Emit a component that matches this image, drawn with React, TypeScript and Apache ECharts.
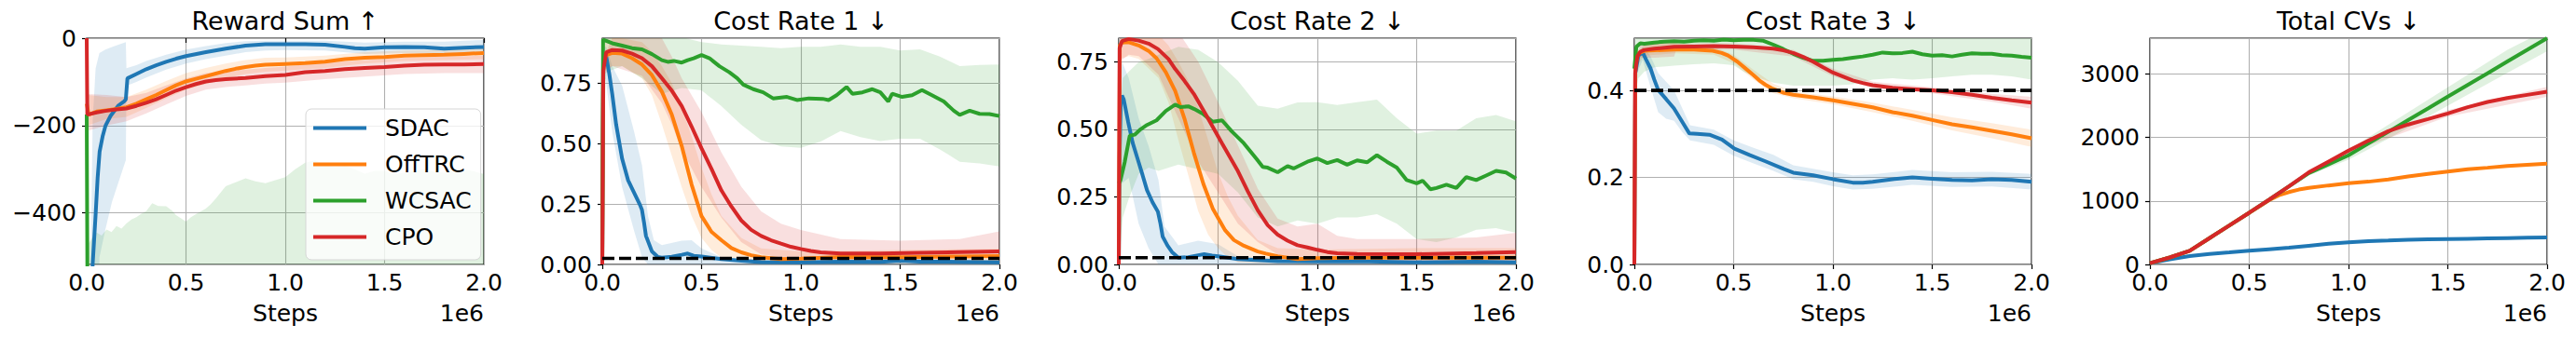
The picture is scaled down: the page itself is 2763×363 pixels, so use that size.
import React, { useEffect, useRef } from "react";
import * as echarts from "echarts";

// ---------------- data (x in units of 1e6 steps) ----------------
const ALGOS = ["SDAC", "OffTRC", "WCSAC", "CPO"];
const COLORS = ["#1f77b4", "#ff7f0e", "#2ca02c", "#d62728"];
const TITLES = ["Reward Sum ↑", "Cost Rate 1 ↓", "Cost Rate 2 ↓", "Cost Rate 3 ↓", "Total CVs ↓"];
const X_LABEL = "Steps";
const X_OFFSET_LABEL = "1e6";
const X_MIN = 0;
const X_MAX = 2;
const X_INTERVAL = 0.5;
const Y_MIN = [-518, 0, 0, 0, 0];
const Y_MAX = [0, 0.936, 0.837, 0.52, 3565];
const Y_INTERVAL = [200, 0.25, 0.25, 0.2, 1000];
const Y_DECIMALS = [0, 2, 2, 1, 0];
const THRESHOLDS = [null, 0.025, 0.025, 0.4, null];

// ---- Panel 1: Reward Sum ----
const P1_SDAC = [[0, -900], [0.025, -600], [0.03, -518], [0.045, -403], [0.055, -320], [0.065, -260], [0.08, -225], [0.095, -200], [0.12, -178], [0.16, -154], [0.19, -144], [0.197, -140], [0.205, -92], [0.25, -82], [0.3, -71], [0.35, -62], [0.4, -54], [0.45, -47], [0.5, -41], [0.6, -32], [0.7, -24], [0.8, -17], [0.9, -14], [1.0, -14], [1.1, -14], [1.2, -15], [1.3, -20], [1.35, -23], [1.4, -24], [1.5, -21], [1.6, -20], [1.7, -21], [1.8, -24], [1.9, -22], [2.0, -20]];
const P1_SDAC_BAND = [[0.02, -900, -518], [0.03, -900, -190], [0.045, -900, -69], [0.064, -502, -34], [0.094, -438, -26], [0.127, -375, -20], [0.16, -330, -15], [0.197, -279, -9], [0.2, -109, -69], [0.25, -100, -62], [0.3, -90, -52], [0.4, -72, -38], [0.5, -58, -26], [0.6, -48, -18], [0.7, -40, -11], [0.8, -32, -7], [0.9, -28, -6], [1.0, -27, -6], [1.2, -28, -6], [1.4, -36, -10], [1.6, -34, -8], [1.8, -36, -8], [2.0, -35, -4]];
const P1_OFFTRC = [[0, -150], [0.01, -175], [0.05, -168], [0.1, -165], [0.15, -162], [0.2, -158], [0.25, -150], [0.3, -140], [0.35, -130], [0.4, -119], [0.45, -108], [0.5, -99], [0.55, -93], [0.6, -87], [0.65, -81], [0.7, -75], [0.75, -70], [0.8, -66], [0.85, -63], [0.9, -61], [1.0, -59], [1.1, -57], [1.2, -54], [1.3, -48], [1.4, -45], [1.5, -43], [1.6, -40], [1.7, -39], [1.8, -38], [1.9, -36], [2.0, -34]];
const P1_OFFTRC_BAND = [[0.005, -200, -130], [0.1, -185, -135], [0.2, -180, -135], [0.3, -160, -118], [0.4, -138, -98], [0.5, -118, -80], [0.6, -105, -68], [0.7, -92, -58], [0.8, -82, -50], [0.9, -77, -45], [1.0, -74, -44], [1.2, -68, -40], [1.4, -58, -32], [1.6, -52, -28], [1.8, -50, -26], [2.0, -48, -22]];
const P1_WCSAC = [[0, -175], [0.004, -600], [1.0, -700], [2.0, -700]];
const P1_WCSAC_BAND = [[0, -900, -175], [0.01, -900, -470], [0.03, -900, -455], [0.05, -900, -445], [0.075, -900, -452], [0.1, -900, -438], [0.125, -900, -444], [0.15, -900, -430], [0.175, -900, -436], [0.2, -900, -424], [0.225, -900, -415], [0.25, -900, -410], [0.275, -900, -402], [0.3, -900, -396], [0.33, -900, -378], [0.36, -900, -384], [0.4, -900, -385], [0.43, -900, -395], [0.45, -900, -405], [0.5, -900, -420], [0.525, -900, -410], [0.55, -900, -403], [0.6, -900, -390], [0.625, -900, -380], [0.65, -900, -367], [0.7, -900, -339], [0.75, -900, -330], [0.8, -900, -321], [0.85, -900, -328], [0.9, -900, -332], [0.95, -900, -325], [1.0, -900, -318], [1.05, -900, -300], [1.1, -900, -285], [1.15, -900, -280], [1.2, -900, -290], [1.25, -900, -295], [1.3, -900, -292], [1.35, -900, -300], [1.4, -900, -310], [1.45, -900, -304], [1.5, -900, -304], [1.55, -900, -312], [1.6, -900, -308], [1.65, -900, -303], [1.7, -900, -300], [1.75, -900, -306], [1.8, -900, -308], [1.85, -900, -302], [1.9, -900, -300], [1.95, -900, -305], [2.0, -900, -311]];
const P1_CPO = [[0, 0], [0.003, -175], [0.05, -170], [0.1, -166], [0.15, -163], [0.2, -161], [0.25, -155], [0.3, -148], [0.35, -140], [0.4, -130], [0.45, -120], [0.5, -112], [0.55, -105], [0.6, -99], [0.65, -96], [0.7, -94], [0.8, -91], [0.9, -87], [1.0, -84], [1.1, -78], [1.2, -75], [1.3, -71], [1.4, -68], [1.5, -66], [1.6, -63], [1.7, -61], [1.8, -60], [1.9, -60], [2.0, -59]];
const P1_CPO_BAND = [[0.003, -212, -128], [0.1, -200, -130], [0.2, -190, -135], [0.3, -172, -125], [0.4, -152, -108], [0.5, -132, -92], [0.6, -118, -80], [0.7, -112, -76], [0.8, -108, -72], [0.9, -104, -68], [1.0, -102, -65], [1.2, -94, -56], [1.4, -88, -50], [1.6, -82, -45], [1.8, -80, -42], [2.0, -80, -40]];

// ---- Panel 2: Cost Rate 1 ----
const P2_SDAC = [[0, 0], [0.005, 0.87], [0.02, 0.86], [0.035, 0.79], [0.05, 0.706], [0.07, 0.578], [0.1, 0.437], [0.13, 0.348], [0.16, 0.297], [0.19, 0.246], [0.2, 0.225], [0.21, 0.175], [0.22, 0.118], [0.25, 0.054], [0.28, 0.031], [0.3, 0.028], [0.35, 0.032], [0.4, 0.04], [0.43, 0.045], [0.46, 0.036], [0.5, 0.033], [0.6, 0.022], [0.7, 0.015], [0.8, 0.01], [1.0, 0.009], [1.2, 0.012], [1.4, 0.011], [1.5, 0.015], [1.6, 0.012], [1.8, 0.011], [2.0, 0.009]];
const P2_SDAC_BAND = [[0, 0, 0], [0.005, 0.8, 0.9], [0.02, 0.75, 0.9], [0.05, 0.55, 0.82], [0.1, 0.32, 0.74], [0.16, 0.14, 0.55], [0.2, 0.03, 0.41], [0.23, 0, 0.2], [0.26, 0, 0.1], [0.3, 0, 0.08], [0.4, 0, 0.098], [0.45, 0, 0.1], [0.5, 0, 0.066], [0.6, 0, 0.03], [0.8, 0, 0.02], [1.0, 0, 0.02], [1.5, 0, 0.025], [2.0, 0, 0.02]];
const P2_OFFTRC = [[0, 0], [0.005, 0.84], [0.02, 0.866], [0.05, 0.875], [0.1, 0.872], [0.15, 0.853], [0.2, 0.827], [0.25, 0.783], [0.3, 0.715], [0.35, 0.62], [0.4, 0.49], [0.45, 0.33], [0.5, 0.2], [0.55, 0.135], [0.6, 0.1], [0.65, 0.068], [0.7, 0.05], [0.75, 0.038], [0.8, 0.03], [0.85, 0.026], [0.9, 0.022], [1.0, 0.024], [1.2, 0.031], [1.5, 0.03], [1.8, 0.033], [2.0, 0.035]];
const P2_OFFTRC_BAND = [[0.005, 0.8, 0.93], [0.05, 0.82, 0.936], [0.1, 0.82, 0.936], [0.2, 0.77, 0.92], [0.25, 0.7, 0.88], [0.3, 0.58, 0.82], [0.35, 0.45, 0.75], [0.4, 0.32, 0.65], [0.45, 0.2, 0.53], [0.5, 0.11, 0.4], [0.55, 0.06, 0.29], [0.6, 0.028, 0.2], [0.7, 0.01, 0.11], [0.8, 0.005, 0.066], [1.0, 0.005, 0.054], [1.5, 0.005, 0.06], [2.0, 0.008, 0.065]];
const P2_WCSAC = [[0, 0], [0.004, 0.93], [0.02, 0.925], [0.05, 0.915], [0.1, 0.905], [0.15, 0.895], [0.2, 0.89], [0.25, 0.87], [0.3, 0.845], [0.33, 0.838], [0.36, 0.842], [0.4, 0.835], [0.43, 0.845], [0.46, 0.853], [0.5, 0.866], [0.54, 0.853], [0.59, 0.82], [0.64, 0.795], [0.68, 0.77], [0.71, 0.744], [0.76, 0.725], [0.81, 0.712], [0.86, 0.687], [0.93, 0.693], [0.98, 0.68], [1.04, 0.687], [1.11, 0.685], [1.14, 0.68], [1.18, 0.7], [1.23, 0.734], [1.26, 0.706], [1.31, 0.712], [1.36, 0.725], [1.4, 0.712], [1.44, 0.674], [1.46, 0.706], [1.51, 0.693], [1.56, 0.7], [1.61, 0.721], [1.66, 0.7], [1.72, 0.674], [1.77, 0.636], [1.8, 0.619], [1.85, 0.636], [1.9, 0.623], [1.95, 0.622], [2.0, 0.614]];
const P2_WCSAC_BAND = [[0.004, 0.5, 0.936], [0.02, 0.795, 0.95], [0.1, 0.82, 0.95], [0.2, 0.77, 0.95], [0.3, 0.706, 0.95], [0.4, 0.73, 0.94], [0.5, 0.72, 0.92], [0.6, 0.655, 0.91], [0.7, 0.578, 0.905], [0.8, 0.514, 0.9], [0.9, 0.488, 0.895], [1.0, 0.482, 0.9], [1.1, 0.508, 0.9], [1.2, 0.552, 0.91], [1.3, 0.527, 0.9], [1.4, 0.51, 0.9], [1.5, 0.52, 0.885], [1.6, 0.52, 0.89], [1.7, 0.476, 0.86], [1.8, 0.425, 0.82], [1.9, 0.418, 0.825], [2.0, 0.405, 0.827]];
const P2_CPO = [[0, 0], [0.005, 0.8], [0.02, 0.878], [0.05, 0.887], [0.1, 0.885], [0.15, 0.872], [0.2, 0.853], [0.25, 0.82], [0.3, 0.77], [0.35, 0.719], [0.4, 0.655], [0.45, 0.57], [0.5, 0.48], [0.55, 0.395], [0.6, 0.306], [0.65, 0.24], [0.7, 0.182], [0.75, 0.143], [0.8, 0.118], [0.85, 0.1], [0.9, 0.086], [0.95, 0.073], [1.0, 0.064], [1.05, 0.056], [1.1, 0.05], [1.2, 0.045], [1.4, 0.045], [1.6, 0.048], [1.8, 0.051], [2.0, 0.054]];
const P2_CPO_BAND = [[0.005, 0.78, 0.85], [0.05, 0.82, 0.936], [0.2, 0.78, 0.936], [0.3, 0.667, 0.936], [0.35, 0.58, 0.86], [0.4, 0.476, 0.77], [0.5, 0.32, 0.63], [0.6, 0.194, 0.463], [0.7, 0.092, 0.322], [0.8, 0.041, 0.22], [0.9, 0.03, 0.169], [1.0, 0.022, 0.143], [1.2, 0.02, 0.105], [1.5, 0.022, 0.098], [1.8, 0.025, 0.105], [2.0, 0.028, 0.137]];

// ---- Panel 3: Cost Rate 2 ----
const P3_SDAC = [[0, 0], [0.004, 0.4], [0.01, 0.6], [0.016, 0.625], [0.025, 0.61], [0.047, 0.528], [0.07, 0.45], [0.095, 0.39], [0.12, 0.33], [0.142, 0.275], [0.17, 0.23], [0.197, 0.195], [0.21, 0.15], [0.221, 0.103], [0.245, 0.07], [0.268, 0.046], [0.3, 0.025], [0.35, 0.027], [0.4, 0.034], [0.43, 0.038], [0.47, 0.033], [0.5, 0.03], [0.6, 0.02], [0.8, 0.012], [1.0, 0.011], [1.2, 0.012], [1.5, 0.008], [1.8, 0.01], [2.0, 0.008]];
const P3_SDAC_BAND = [[0.004, 0.2, 0.6], [0.016, 0.3, 0.75], [0.05, 0.32, 0.69], [0.1, 0.151, 0.541], [0.15, 0.06, 0.438], [0.2, 0, 0.312], [0.23, 0, 0.14], [0.3, 0, 0.071], [0.4, 0, 0.088], [0.5, 0, 0.075], [0.6, 0, 0.03], [1.0, 0, 0.02], [2.0, 0, 0.018]];
const P3_OFFTRC = [[0, 0], [0.005, 0.81], [0.016, 0.821], [0.05, 0.822], [0.1, 0.81], [0.15, 0.79], [0.19, 0.763], [0.237, 0.711], [0.284, 0.642], [0.331, 0.539], [0.378, 0.413], [0.426, 0.298], [0.473, 0.207], [0.536, 0.126], [0.58, 0.09], [0.63, 0.069], [0.7, 0.048], [0.741, 0.04], [0.8, 0.03], [0.9, 0.02], [1.0, 0.023], [1.2, 0.025], [1.5, 0.025], [1.8, 0.026], [2.0, 0.025]];
const P3_OFFTRC_BAND = [[0.005, 0.76, 0.837], [0.05, 0.771, 0.86], [0.1, 0.76, 0.86], [0.2, 0.69, 0.85], [0.25, 0.6, 0.81], [0.3, 0.461, 0.75], [0.35, 0.33, 0.68], [0.4, 0.197, 0.58], [0.45, 0.11, 0.46], [0.5, 0.06, 0.34], [0.55, 0.025, 0.25], [0.6, 0.008, 0.18], [0.7, 0.005, 0.09], [0.8, 0.005, 0.06], [1.0, 0.005, 0.055], [1.5, 0.005, 0.06], [2.0, 0.005, 0.06]];
const P3_WCSAC = [[0, 0.3], [0.008, 0.31], [0.03, 0.379], [0.055, 0.476], [0.08, 0.48], [0.11, 0.5], [0.142, 0.516], [0.19, 0.533], [0.237, 0.568], [0.284, 0.591], [0.31, 0.582], [0.35, 0.585], [0.38, 0.575], [0.426, 0.556], [0.473, 0.528], [0.52, 0.533], [0.568, 0.493], [0.63, 0.448], [0.694, 0.39], [0.725, 0.361], [0.75, 0.358], [0.8, 0.341], [0.85, 0.364], [0.88, 0.355], [0.95, 0.38], [1.0, 0.392], [1.05, 0.375], [1.1, 0.386], [1.15, 0.369], [1.2, 0.385], [1.25, 0.378], [1.3, 0.404], [1.35, 0.38], [1.4, 0.358], [1.45, 0.312], [1.5, 0.3], [1.53, 0.31], [1.57, 0.278], [1.6, 0.283], [1.65, 0.295], [1.7, 0.283], [1.75, 0.323], [1.8, 0.312], [1.85, 0.329], [1.9, 0.346], [1.95, 0.34], [2.0, 0.318]];
const P3_WCSAC_BAND = [[0, 0, 0.5], [0.02, 0.174, 0.69], [0.05, 0.243, 0.713], [0.1, 0.335, 0.748], [0.15, 0.358, 0.76], [0.2, 0.346, 0.776], [0.3, 0.369, 0.805], [0.4, 0.352, 0.794], [0.5, 0.335, 0.748], [0.6, 0.266, 0.679], [0.7, 0.174, 0.587], [0.8, 0.14, 0.576], [0.9, 0.163, 0.599], [1.0, 0.151, 0.6], [1.1, 0.174, 0.59], [1.2, 0.174, 0.6], [1.3, 0.186, 0.61], [1.4, 0.151, 0.541], [1.5, 0.094, 0.484], [1.6, 0.083, 0.495], [1.7, 0.1, 0.495], [1.8, 0.128, 0.541], [1.9, 0.134, 0.553], [2.0, 0.117, 0.53]];
const P3_CPO = [[0, 0], [0.004, 0.8], [0.016, 0.826], [0.05, 0.834], [0.1, 0.828], [0.15, 0.817], [0.197, 0.797], [0.25, 0.76], [0.284, 0.723], [0.33, 0.68], [0.378, 0.631], [0.441, 0.551], [0.52, 0.448], [0.6, 0.345], [0.65, 0.27], [0.7, 0.2], [0.75, 0.145], [0.8, 0.11], [0.85, 0.088], [0.9, 0.071], [0.95, 0.063], [1.0, 0.054], [1.05, 0.046], [1.1, 0.041], [1.2, 0.039], [1.5, 0.038], [1.8, 0.042], [2.0, 0.046]];
const P3_CPO_BAND = [[0.004, 0.75, 0.837], [0.05, 0.776, 0.9], [0.1, 0.771, 0.9], [0.2, 0.702, 0.9], [0.3, 0.541, 0.86], [0.4, 0.381, 0.75], [0.5, 0.266, 0.6], [0.6, 0.151, 0.44], [0.7, 0.083, 0.28], [0.8, 0.037, 0.17], [0.9, 0.025, 0.14], [1.0, 0.014, 0.151], [1.1, 0.014, 0.106], [1.2, 0.012, 0.094], [1.5, 0.01, 0.094], [1.8, 0.012, 0.1], [2.0, 0.014, 0.117]];

// ---- Panel 4: Cost Rate 3 ----
const P4_SDAC = [[0, 0], [0.005, 0.44], [0.02, 0.48], [0.042, 0.487], [0.06, 0.47], [0.081, 0.451], [0.1, 0.425], [0.12, 0.401], [0.16, 0.38], [0.199, 0.359], [0.238, 0.33], [0.277, 0.301], [0.316, 0.3], [0.378, 0.298], [0.441, 0.287], [0.504, 0.266], [0.582, 0.251], [0.66, 0.237], [0.754, 0.219], [0.8, 0.211], [0.9, 0.205], [1.0, 0.196], [1.1, 0.188], [1.15, 0.188], [1.2, 0.19], [1.3, 0.196], [1.4, 0.2], [1.5, 0.197], [1.6, 0.194], [1.7, 0.193], [1.8, 0.196], [1.9, 0.194], [2.0, 0.19]];
const P4_SDAC_BAND = [[0.005, 0.43, 0.46], [0.042, 0.47, 0.5], [0.08, 0.41, 0.48], [0.12, 0.35, 0.44], [0.16, 0.335, 0.42], [0.2, 0.33, 0.4], [0.24, 0.305, 0.36], [0.28, 0.285, 0.32], [0.4, 0.275, 0.31], [0.5, 0.25, 0.285], [0.6, 0.232, 0.268], [0.7, 0.215, 0.252], [0.8, 0.196, 0.228], [0.9, 0.19, 0.22], [1.0, 0.18, 0.212], [1.1, 0.172, 0.205], [1.2, 0.174, 0.207], [1.4, 0.183, 0.217], [1.6, 0.178, 0.212], [1.8, 0.179, 0.213], [2.0, 0.172, 0.208]];
const P4_OFFTRC = [[0, 0], [0.005, 0.46], [0.02, 0.485], [0.05, 0.491], [0.1, 0.492], [0.2, 0.494], [0.3, 0.494], [0.394, 0.491], [0.44, 0.486], [0.472, 0.48], [0.519, 0.466], [0.566, 0.448], [0.6, 0.435], [0.629, 0.423], [0.66, 0.413], [0.692, 0.405], [0.754, 0.394], [0.8, 0.39], [0.9, 0.384], [1.0, 0.377], [1.1, 0.369], [1.2, 0.361], [1.3, 0.35], [1.4, 0.342], [1.5, 0.332], [1.6, 0.322], [1.7, 0.315], [1.8, 0.307], [1.9, 0.299], [2.0, 0.29]];
const P4_OFFTRC_BAND = [[0.005, 0.45, 0.48], [0.05, 0.48, 0.505], [0.2, 0.485, 0.51], [0.4, 0.482, 0.5], [0.5, 0.462, 0.482], [0.6, 0.425, 0.447], [0.7, 0.393, 0.415], [0.8, 0.382, 0.397], [1.0, 0.368, 0.386], [1.2, 0.35, 0.372], [1.4, 0.33, 0.355], [1.6, 0.308, 0.338], [1.8, 0.29, 0.325], [2.0, 0.27, 0.31]];
const P4_WCSAC = [[0, 0.45], [0.01, 0.5], [0.03, 0.508], [0.05, 0.507], [0.1, 0.51], [0.15, 0.512], [0.2, 0.513], [0.25, 0.512], [0.3, 0.514], [0.35, 0.515], [0.4, 0.514], [0.45, 0.517], [0.5, 0.515], [0.55, 0.516], [0.6, 0.516], [0.65, 0.514], [0.7, 0.505], [0.75, 0.495], [0.8, 0.484], [0.85, 0.475], [0.9, 0.468], [0.95, 0.468], [1.0, 0.47], [1.05, 0.472], [1.1, 0.475], [1.15, 0.478], [1.2, 0.482], [1.25, 0.487], [1.3, 0.485], [1.35, 0.486], [1.4, 0.489], [1.45, 0.483], [1.5, 0.48], [1.55, 0.481], [1.6, 0.478], [1.65, 0.482], [1.7, 0.485], [1.75, 0.484], [1.8, 0.484], [1.85, 0.481], [1.9, 0.48], [1.95, 0.477], [2.0, 0.475]];
const P4_WCSAC_BAND = [[0, 0.38, 0.5], [0.02, 0.428, 0.56], [0.05, 0.443, 0.56], [0.1, 0.453, 0.56], [0.2, 0.457, 0.56], [0.3, 0.46, 0.56], [0.4, 0.462, 0.56], [0.5, 0.458, 0.56], [0.55, 0.443, 0.56], [0.6, 0.432, 0.56], [0.7, 0.418, 0.56], [0.8, 0.411, 0.55], [0.9, 0.411, 0.54], [1.0, 0.411, 0.535], [1.1, 0.414, 0.535], [1.2, 0.425, 0.54], [1.3, 0.428, 0.54], [1.4, 0.425, 0.545], [1.5, 0.428, 0.535], [1.6, 0.432, 0.535], [1.7, 0.436, 0.54], [1.8, 0.436, 0.535], [1.9, 0.432, 0.53], [2.0, 0.425, 0.528]];
const P4_CPO = [[0, 0], [0.004, 0.44], [0.015, 0.478], [0.03, 0.489], [0.05, 0.493], [0.1, 0.496], [0.2, 0.5], [0.3, 0.501], [0.4, 0.502], [0.5, 0.501], [0.6, 0.499], [0.7, 0.496], [0.75, 0.492], [0.8, 0.486], [0.85, 0.477], [0.9, 0.466], [0.95, 0.453], [1.0, 0.441], [1.05, 0.432], [1.1, 0.423], [1.15, 0.417], [1.2, 0.412], [1.3, 0.406], [1.4, 0.403], [1.5, 0.4], [1.6, 0.396], [1.7, 0.39], [1.8, 0.383], [1.9, 0.377], [2.0, 0.372]];
const P4_CPO_BAND = [[0.004, 0.42, 0.47], [0.03, 0.475, 0.505], [0.1, 0.475, 0.51], [0.2, 0.478, 0.512], [0.21, 0.492, 0.508], [0.5, 0.494, 0.508], [0.8, 0.478, 0.493], [1.0, 0.432, 0.45], [1.2, 0.405, 0.42], [1.5, 0.393, 0.407], [1.8, 0.374, 0.392], [2.0, 0.358, 0.385]];

// ---- Panel 5: Total CVs ----
const P5_SDAC = [[0, 20], [0.1, 80], [0.2, 132], [0.3, 166], [0.4, 190], [0.5, 215], [0.6, 240], [0.7, 265], [0.8, 295], [0.9, 325], [1.0, 350], [1.1, 365], [1.2, 376], [1.3, 388], [1.4, 395], [1.5, 400], [1.6, 405], [1.7, 410], [1.8, 415], [1.9, 420], [2.0, 425]];
const P5_OFFTRC = [[0, 20], [0.1, 110], [0.2, 215], [0.3, 415], [0.4, 615], [0.5, 815], [0.6, 1011], [0.65, 1090], [0.7, 1140], [0.75, 1180], [0.8, 1206], [0.9, 1245], [1.0, 1280], [1.1, 1304], [1.2, 1338], [1.3, 1385], [1.4, 1426], [1.5, 1465], [1.6, 1500], [1.7, 1524], [1.8, 1550], [1.9, 1570], [2.0, 1588]];
const P5_WCSAC = [[0, 20], [0.1, 110], [0.2, 215], [0.3, 415], [0.4, 615], [0.5, 815], [0.6, 1020], [0.7, 1231], [0.8, 1440], [0.9, 1580], [1.0, 1720], [1.1, 1905], [1.2, 2089], [1.3, 2274], [1.4, 2458], [1.5, 2643], [1.6, 2828], [1.7, 3012], [1.8, 3197], [1.9, 3381], [2.0, 3566]];
const P5_WCSAC_BAND = [[0.6, 1010, 1030], [0.8, 1400, 1470], [1.0, 1650, 1800], [1.2, 1980, 2200], [1.5, 2500, 2790], [1.8, 3020, 3380], [2.0, 3360, 3700]];
const P5_CPO = [[0, 20], [0.1, 110], [0.2, 215], [0.3, 415], [0.4, 615], [0.5, 815], [0.6, 1020], [0.7, 1231], [0.8, 1451], [0.9, 1622], [1.0, 1793], [1.1, 1950], [1.2, 2100], [1.3, 2205], [1.4, 2290], [1.5, 2379], [1.6, 2477], [1.7, 2560], [1.8, 2623], [1.9, 2672], [2.0, 2721]];
const P5_CPO_BAND = [[0.8, 1440, 1462], [1.0, 1760, 1830], [1.5, 2330, 2430], [2.0, 2640, 2800]];

const MEANS = [
  [P1_SDAC, P1_OFFTRC, P1_WCSAC, P1_CPO],
  [P2_SDAC, P2_OFFTRC, P2_WCSAC, P2_CPO],
  [P3_SDAC, P3_OFFTRC, P3_WCSAC, P3_CPO],
  [P4_SDAC, P4_OFFTRC, P4_WCSAC, P4_CPO],
  [P5_SDAC, P5_OFFTRC, P5_WCSAC, P5_CPO],
];
const BANDS = [
  [P1_SDAC_BAND, P1_OFFTRC_BAND, P1_WCSAC_BAND, P1_CPO_BAND],
  [P2_SDAC_BAND, P2_OFFTRC_BAND, P2_WCSAC_BAND, P2_CPO_BAND],
  [P3_SDAC_BAND, P3_OFFTRC_BAND, P3_WCSAC_BAND, P3_CPO_BAND],
  [P4_SDAC_BAND, P4_OFFTRC_BAND, P4_WCSAC_BAND, P4_CPO_BAND],
  [null, null, P5_WCSAC_BAND, P5_CPO_BAND],
];

// ---------------- layout ----------------
const W = 2763;
const H = 363;
const GRID_LEFT = [93, 646, 1200, 1753, 2306];
const GRID_W = 426;
const GRID_TOP = 41;
const GRID_H = 243;
const FONT = "DejaVu Sans";
const FS = 25;
const FS_TITLE = 27;

function rgba(hex: string, a: number) {
  const n = parseInt(hex.slice(1), 16);
  return `rgba(${(n >> 16) & 255},${(n >> 8) & 255},${n & 255},${a})`;
}

function fmtY(p: number) {
  return (v: number) => {
    const r = v / Y_INTERVAL[p];
    if (Math.abs(r - Math.round(r)) > 1e-6) return "";
    const s = Math.abs(v).toFixed(Y_DECIMALS[p]);
    return v < 0 ? "\u2212" + s : s;
  };
}

function buildOption() {
  const grid: any[] = [];
  const xAxis: any[] = [];
  const yAxis: any[] = [];
  const series: any[] = [];
  const graphic: any[] = [];

  for (let p = 0; p < 5; p++) {
    grid.push({
      left: GRID_LEFT[p], top: GRID_TOP, width: GRID_W, height: GRID_H,
      show: true, borderColor: "#000", borderWidth: 1.2, backgroundColor: "transparent",
    });
    xAxis.push({
      type: "value", gridIndex: p, min: X_MIN, max: X_MAX, interval: X_INTERVAL,
      axisLine: { show: false },
      axisTick: { show: true, length: 5, lineStyle: { color: "#000", width: 1.2 } },
      axisLabel: { margin: 7, fontSize: FS, fontFamily: FONT, color: "#000", formatter: (v: number) => v.toFixed(1) },
      splitLine: { show: true, lineStyle: { color: "#b0b0b0", width: 1.1 } },
    });
    const y: any = {
      type: "value", gridIndex: p, min: Y_MIN[p], max: Y_MAX[p],
      axisLine: { show: false },
      axisTick: { show: true, length: 5, lineStyle: { color: "#000", width: 1.2 } },
      axisLabel: { margin: 11, fontSize: FS, fontFamily: FONT, color: "#000", formatter: fmtY(p), showMinLabel: p !== 0, showMaxLabel: p === 0 },
      splitLine: { show: true, lineStyle: { color: "#b0b0b0", width: 1.1 } },
    };
    if (p === 0) y.splitNumber = 3;
    else y.interval = Y_INTERVAL[p];
    yAxis.push(y);

    for (let a = 0; a < ALGOS.length; a++) {
      const color = COLORS[a];
      series.push({
        type: "line", name: ALGOS[a], xAxisIndex: p, yAxisIndex: p,
        data: MEANS[p][a], showSymbol: false, symbol: "none", clip: true,
        color, itemStyle: { color }, lineStyle: { color, width: 4 },
        emphasis: { disabled: true }, silent: true, z: 2,
      });
      const band = BANDS[p][a];
      if (band) {
        const pts = band;
        series.push({
          type: "custom", name: ALGOS[a] + " band", xAxisIndex: p, yAxisIndex: p,
          silent: true, clip: true, z: 2,
          data: [[pts[0][0], Math.max(Y_MIN[p], Math.min(Y_MAX[p], pts[0][1]))]],
          renderItem: (params: any, api: any) => {
            const upper = pts.map((q: number[]) => api.coord([q[0], q[2]]));
            const lower = pts.map((q: number[]) => api.coord([q[0], q[1]])).reverse();
            const cs = params.coordSys;
            return {
              type: "polygon",
              shape: { points: upper.concat(lower) },
              style: { fill: rgba(color, 0.15), stroke: "none" },
              clipPath: { type: "rect", shape: { x: cs.x, y: cs.y, width: cs.width, height: cs.height } },
            };
          },
        });
      }
    }
    const th = THRESHOLDS[p];
    if (th !== null) {
      series.push({
        type: "line", name: "threshold", xAxisIndex: p, yAxisIndex: p,
        data: [[X_MIN, th], [X_MAX, th]], showSymbol: false, symbol: "none",
        lineStyle: { color: "#000", width: 3.6, type: [13, 5] },
        emphasis: { disabled: true }, silent: true, z: 4,
      });
    }

    const cx = GRID_LEFT[p] + GRID_W / 2;
    graphic.push({
      type: "text", x: cx, y: 22, silent: true,
      style: { text: TITLES[p], fontSize: FS_TITLE, fontFamily: FONT, fill: "#000", align: "center", verticalAlign: "middle" },
    });
    graphic.push({
      type: "text", x: cx, y: 336, silent: true,
      style: { text: X_LABEL, fontSize: FS, fontFamily: FONT, fill: "#000", align: "center", verticalAlign: "middle" },
    });
    graphic.push({
      type: "text", x: GRID_LEFT[p] + GRID_W, y: 336, silent: true,
      style: { text: X_OFFSET_LABEL, fontSize: FS, fontFamily: FONT, fill: "#000", align: "right", verticalAlign: "middle" },
    });
  }

  return {
    animation: false,
    backgroundColor: "#fff",
    textStyle: { fontFamily: FONT },
    grid, xAxis, yAxis, series, graphic,
    legend: {
      data: ALGOS, orient: "vertical", left: 328, top: 117,
      itemWidth: 57, itemHeight: 4, itemGap: 14, icon: "rect",
      padding: [8, 10, 12, 8],
      backgroundColor: "rgba(255,255,255,0.8)", borderColor: "#d6d6d6", borderWidth: 1, borderRadius: 6,
      textStyle: { fontSize: FS, fontFamily: FONT, color: "#000", padding: [0, 0, 0, 15] },
      selectedMode: false, z: 10,
    },
  };
}

export default function App() {
  const ref = useRef<HTMLDivElement>(null);
  useEffect(() => {
    if (!ref.current) return;
    const chart = echarts.init(ref.current, null, { renderer: "svg" });
    chart.setOption(buildOption() as any);
    return () => chart.dispose();
  }, []);
  return <div ref={ref} style={{ position: "absolute", left: 0, top: 0, width: W, height: H }} />;
}
